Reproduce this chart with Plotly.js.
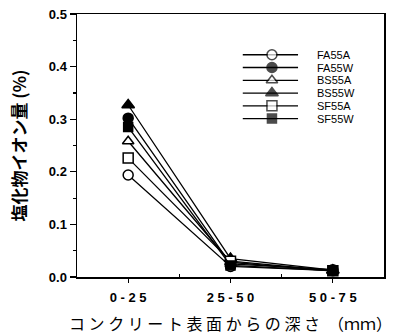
<!DOCTYPE html>
<html>
<head>
<meta charset="utf-8">
<script src="https://cdn.plot.ly/plotly-3.0.1.min.js"></script>
<style>html,body{margin:0;padding:0;background:#fff;}#chart{width:393px;height:336px;}</style>
</head>
<body>
<div id="chart"></div>
<script>
// depth categories
const depths = ['0-25', '25-50', '50-75'];
// series names
const seriesNames = ['FA55A', 'FA55W', 'BS55A', 'BS55W', 'SF55A', 'SF55W'];
// chloride ion content (%) per series
const FA55A = [0.194, 0.020, 0.012];
const FA55W = [0.302, 0.025, 0.014];
const BS55A = [0.258, 0.028, 0.011];
const BS55W = [0.327, 0.035, 0.013];
const SF55A = [0.226, 0.030, 0.012];
const SF55W = [0.285, 0.022, 0.012];
const seriesValues = [FA55A, FA55W, BS55A, BS55W, SF55A, SF55W];
const yTicks = [0.0, 0.1, 0.2, 0.3, 0.4, 0.5];

const symbols = ['circle-open', 'circle', 'triangle-up-open', 'triangle-up', 'square-open', 'square'];
const sizes = [10, 10, 10, 11, 10, 9];

const xIdx = depths.map((_, i) => i);
const traces = seriesValues.map((vals, k) => ({
  type: 'scatter', mode: 'lines+markers',
  x: xIdx, y: vals, name: seriesNames[k],
  line: {color: '#000', width: 1.3},
  marker: {symbol: symbols[k].replace('-open', ''), size: sizes[k],
           color: symbols[k].endsWith('open') ? '#fff' : '#000',
           line: {color: '#000', width: 1.5}},
  showlegend: false, cliponaxis: false
}));

// custom legend (layout positions in axis fraction)
const legX = 0.635, legX0 = 0.54, legX1 = 0.72, legTextX = 0.775;
const legTop = 0.845, legStep = 0.0485;
const legY = seriesNames.map((_, k) => legTop - k * legStep);
traces.push({
  type: 'scatter', mode: 'markers', xaxis: 'x2', yaxis: 'y2',
  x: seriesNames.map(() => legX), y: legY, showlegend: false, hoverinfo: 'skip',
  marker: {symbol: symbols.map(s => s.replace('-open', '')), size: sizes,
           color: symbols.map(s => s.endsWith('open') ? '#fff' : '#000'),
           line: {color: '#000', width: 1.5}}
});
const shapes = legY.map(y => ({type: 'line', xref: 'x2', yref: 'y2', x0: legX0, x1: legX1, y0: y, y1: y,
  line: {color: '#000', width: 1.3}, layer: 'below'}));
const annotations = seriesNames.map((n, k) => ({xref: 'x2', yref: 'y2', x: legTextX, y: legY[k], text: n,
  showarrow: false, xanchor: 'left', yanchor: 'middle',
  font: {family: 'Arial, Liberation Sans', size: 11, color: '#000'}}));

const xTitle = 'コンクリート表面からの深さ'.split('').join(' ') + '　（ｍｍ）';

const layout = {
  width: 393, height: 336,
  margin: {l: 77, r: 9, t: 14, b: 59},
  paper_bgcolor: '#fff', plot_bgcolor: '#fff',
  showlegend: false,
  font: {family: 'Arial, Liberation Sans', color: '#000'},
  xaxis: {
    range: [-0.5, 2.5], tickvals: xIdx, ticktext: depths.map(d => d.split('').join(' ')),
    ticks: 'outside', ticklen: 4, tickwidth: 1.2, tickcolor: '#000',
    ticklabelstandoff: 4,
    showline: true, linecolor: '#000', linewidth: 1.5, mirror: true,
    showgrid: false, zeroline: false,
    tickfont: {family: 'Arial, Liberation Sans', size: 13, weight: 'bold', color: '#000'},
    minor: {tickvals: [0.5, 1.5], ticks: 'inside', ticklen: 3, tickcolor: '#000'},
    title: {text: xTitle, standoff: 14,
            font: {family: 'Noto Sans CJK JP', size: 16, color: '#000'}}
  },
  yaxis: {
    range: [0, 0.5], tickvals: yTicks, ticktext: yTicks.map(v => v.toFixed(1)),
    ticks: 'outside', ticklen: 6, tickwidth: 1.2, tickcolor: '#000',
    showline: true, linecolor: '#000', linewidth: 1.5, mirror: true,
    showgrid: false, zeroline: false,
    tickfont: {family: 'Arial, Liberation Sans', size: 13, weight: 'bold', color: '#000'},
    minor: {dtick: 0.05, ticks: 'outside', ticklen: 3, tickcolor: '#000'},
    title: {text: '塩化物イオン量 (%)', standoff: 18,
            font: {family: 'Noto Sans CJK JP', size: 17, weight: 'bold', color: '#000'}}
  },
  xaxis2: {overlaying: 'x', range: [0, 1], visible: false, fixedrange: true},
  yaxis2: {overlaying: 'y', range: [0, 1], visible: false, fixedrange: true},
  shapes: shapes,
  annotations: annotations
};

Plotly.newPlot('chart', traces, layout, {displayModeBar: false, staticPlot: true});
</script>
</body>
</html>
